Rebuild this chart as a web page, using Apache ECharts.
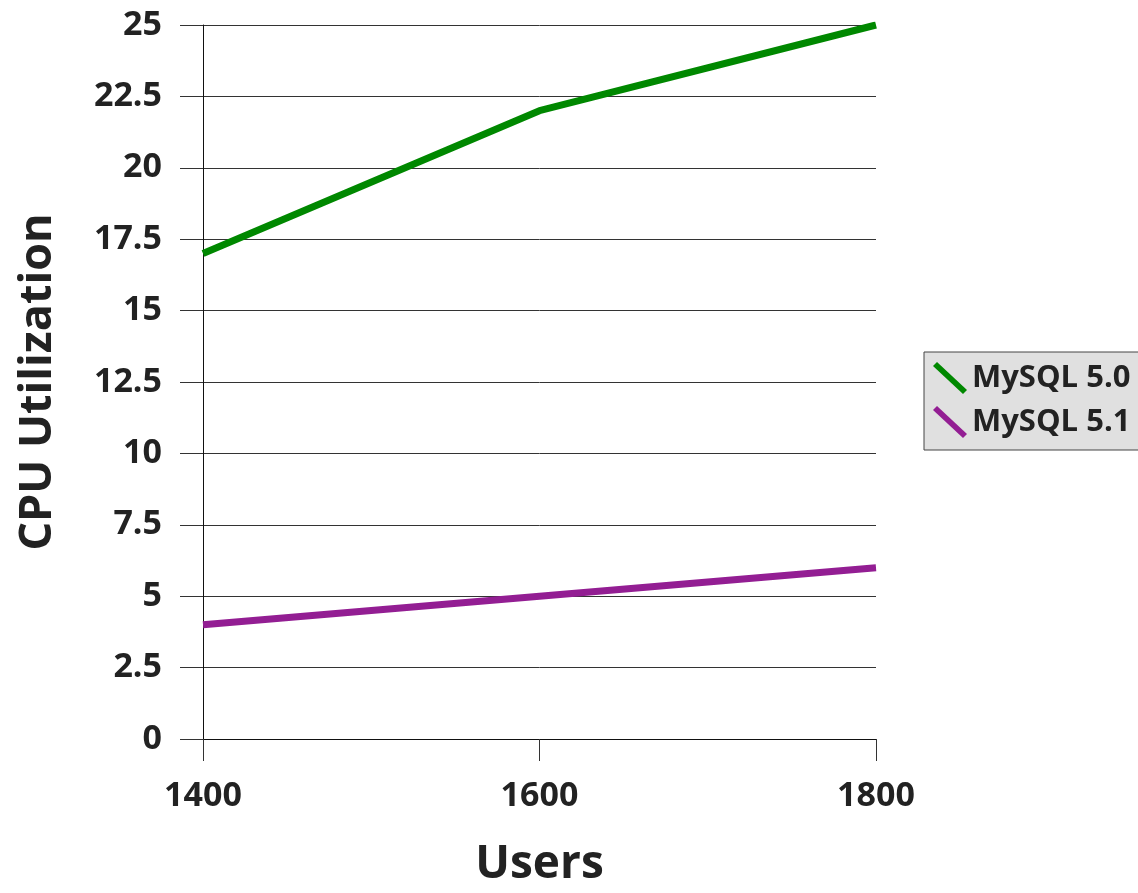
<!DOCTYPE html>
<html>
<head>
<meta charset="utf-8">
<script src="https://cdn.jsdelivr.net/npm/echarts@6/dist/echarts.min.js"></script>
<style>
html,body{margin:0;padding:0;background:#fff;}
#chart{width:1138px;height:893px;}
</style>
</head>
<body>
<div id="chart"></div>
<script>
const users = ['1400', '1600', '1800'];
const mysql50 = [17, 22, 25];
const mysql51 = [4, 5, 6];
const seriesNames = ['MySQL 5.0', 'MySQL 5.1'];
const yMin = 0, yMax = 25, yStep = 2.5;

const FONT = '"Open Sans", "Noto Sans", sans-serif';
const TXT = '#222222';
const diag = 'path://M0,4 L4,0 L34,28 L30,32 Z';

const chart = echarts.init(document.getElementById('chart'), null, {renderer: 'canvas'});
chart.setOption({
  backgroundColor: '#ffffff',
  animation: false,
  textStyle: {fontFamily: FONT},
  grid: {left: 203, right: 262, top: 25, bottom: 152, containLabel: false},
  legend: {
    data: seriesNames,
    orient: 'vertical',
    left: 924,
    top: 352,
    icon: diag,
    itemWidth: 34,
    itemHeight: 32,
    itemGap: 12,
    padding: [10, 9, 12, 9],
    backgroundColor: '#e0e0e0',
    borderColor: '#444',
    borderWidth: 1,
    textStyle: {fontFamily: FONT, fontSize: 31, fontWeight: 'bold', color: TXT}
  },
  xAxis: {
    type: 'category',
    data: users,
    boundaryGap: false,
    name: 'Users',
    nameLocation: 'middle',
    nameGap: 103,
    nameTextStyle: {fontFamily: FONT, fontSize: 46, fontWeight: 'bold', color: TXT},
    axisLine: {show: true, lineStyle: {color: '#111', width: 1}},
    axisTick: {show: true, length: 22, alignWithLabel: true, lineStyle: {color: '#333', width: 1}},
    axisLabel: {fontFamily: FONT, fontSize: 34, fontWeight: 'bold', color: TXT, margin: 40},
    splitLine: {show: false}
  },
  yAxis: {
    type: 'value',
    min: yMin,
    max: yMax,
    interval: yStep,
    name: 'CPU Utilization',
    nameLocation: 'middle',
    nameGap: 142,
    nameTextStyle: {fontFamily: FONT, fontSize: 45, fontWeight: 'bold', color: TXT},
    axisLine: {show: true, lineStyle: {color: '#111', width: 1}},
    axisTick: {show: true, length: 23, lineStyle: {color: '#333', width: 1}},
    axisLabel: {fontFamily: FONT, fontSize: 34, fontWeight: 'bold', color: TXT, margin: 41},
    splitLine: {show: true, lineStyle: {color: '#333', width: 1}}
  },
  series: [
    {
      name: seriesNames[0],
      type: 'line',
      data: mysql50,
      symbol: 'none',
      color: '#008800',
      itemStyle: {color: '#008800'},
      lineStyle: {color: '#008800', width: 7}
    },
    {
      name: seriesNames[1],
      type: 'line',
      data: mysql51,
      symbol: 'none',
      color: '#931e93',
      itemStyle: {color: '#931e93'},
      lineStyle: {color: '#931e93', width: 7}
    }
  ]
});
</script>
</body>
</html>
